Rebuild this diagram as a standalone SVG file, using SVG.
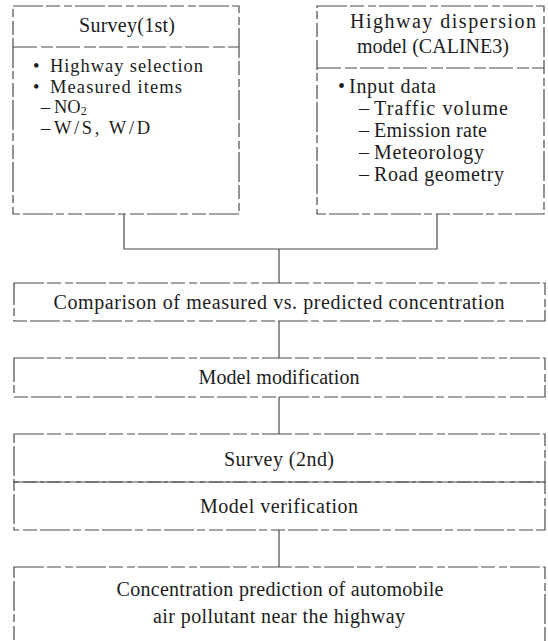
<svg xmlns="http://www.w3.org/2000/svg" width="548" height="641" viewBox="0 0 548 641">
<style>
.box{fill:none;stroke:#4a4a4a;stroke-width:1.2;stroke-dasharray:30 3 14 4 8 3}
.div{fill:none;stroke:#4a4a4a;stroke-width:1.2;stroke-dasharray:24 4 12 3}
.con{fill:none;stroke:#4a4a4a;stroke-width:1.2}
text{font-family:"Liberation Serif","Times New Roman",serif;font-size:20px;fill:#1c1c1c}
.s{font-size:18.5px}
.c{text-anchor:middle}
</style>
<rect width="548" height="641" fill="#ffffff"/>
<g id="survey1">
<rect class="box" x="13" y="6" width="226" height="208"/>
<line class="div" x1="13" y1="47" x2="239" y2="47"/>
<text x="79" y="32" textLength="96" lengthAdjust="spacing">Survey(1st)</text>
<text class="s" x="33" y="72">•</text>
<text class="s" x="50" y="72" textLength="153" lengthAdjust="spacing">Highway selection</text>
<text class="s" x="33" y="92.5">•</text>
<text class="s" x="50" y="92.5" textLength="132" lengthAdjust="spacing">Measured items</text>
<text class="s" x="41" y="113">–</text>
<text class="s" x="54" y="113">NO<tspan font-size="12" dy="1.5">2</tspan></text>
<text class="s" x="41" y="134">–</text>
<text class="s" x="54" y="134" textLength="96" lengthAdjust="spacing">W/S, W/D</text>
</g>
<g id="model">
<rect class="box" x="317" y="6" width="227" height="208"/>
<line class="div" x1="317" y1="68" x2="544" y2="68"/>
<text x="350" y="28" textLength="186" lengthAdjust="spacing">Highway dispersion</text>
<text x="357" y="53" textLength="152" lengthAdjust="spacing">model (CALINE3)</text>
<text x="338" y="93">•</text>
<text x="349" y="93" textLength="87" lengthAdjust="spacing">Input data</text>
<text x="359" y="115">–</text>
<text x="374" y="115" textLength="134" lengthAdjust="spacing">Traffic volume</text>
<text x="359" y="137">–</text>
<text x="374" y="137" textLength="113" lengthAdjust="spacing">Emission rate</text>
<text x="359" y="159">–</text>
<text x="374" y="159" textLength="110" lengthAdjust="spacing">Meteorology</text>
<text x="359" y="181">–</text>
<text x="374" y="181" textLength="130" lengthAdjust="spacing">Road geometry</text>
</g>
<g id="comparison">
<rect class="box" x="14" y="283" width="531" height="38"/>
<text class="c" x="279" y="309" textLength="451" lengthAdjust="spacing">Comparison of measured vs. predicted concentration</text>
</g>
<g id="modification">
<rect class="box" x="14" y="358" width="531" height="39"/>
<text class="c" x="279" y="384" textLength="161" lengthAdjust="spacing">Model modification</text>
</g>
<g id="survey2">
<rect class="box" x="14" y="434" width="531" height="48"/>
<text class="c" x="279" y="466" textLength="110" lengthAdjust="spacing">Survey (2nd)</text>
</g>
<g id="verification">
<rect class="box" x="14" y="482" width="531" height="48"/>
<text class="c" x="279" y="513" textLength="158" lengthAdjust="spacing">Model verification</text>
</g>
<g id="prediction">
<rect class="box" x="14" y="567" width="531" height="80"/>
<text class="c" x="280" y="596" textLength="327" lengthAdjust="spacing">Concentration prediction of automobile</text>
<text class="c" x="279" y="623" textLength="252" lengthAdjust="spacing">air pollutant near the highway</text>
</g>
<g id="connectors">
<polyline class="con" points="124,214 124,249 437,249 437,214"/>
<line class="con" x1="279" y1="249" x2="279" y2="283"/>
<line class="con" x1="279" y1="321" x2="279" y2="358"/>
<line class="con" x1="279" y1="397" x2="279" y2="434"/>
<line class="con" x1="279" y1="530" x2="279" y2="567"/>
</g>
</svg>
